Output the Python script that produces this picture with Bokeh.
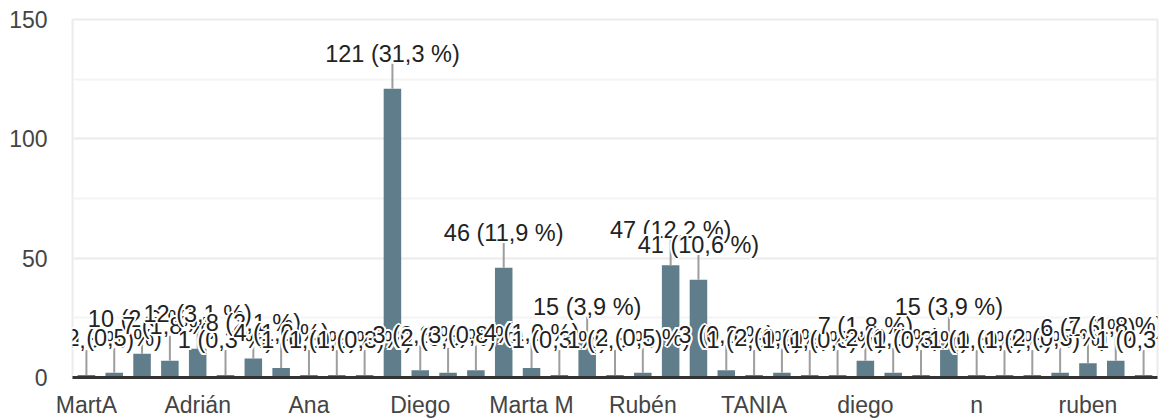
from bokeh.plotting import figure
from bokeh.models import Range1d, FixedTicker, ColumnDataSource, LabelSet
from bokeh.embed import file_html
from bokeh.resources import INLINE
from bokeh.core.properties import value

# categories (only every 4th name is shown on the axis)
names = [
    "MartA", "Adri", "Adrian", "Adriana",
    "Adrián", "Alba", "Alejandro", "Alicia",
    "Ana", "Andrea", "Carlos", "DIEGO",
    "Diego", "Diego M", "Lucía", "Marta",
    "Marta M", "Marta y Diego", "RUBEN", "Ruben",
    "Rubén", "Rubén M", "Sara", "Sergio",
    "TANIA", "Tania", "Todos", "Vicente",
    "diego", "diego m", "lucia", "marta",
    "n", "ninguno", "no", "no sé",
    "ruben", "rubén", "tania",
]
votes = [
    1, 2, 10, 7,
    12, 1, 8, 4,
    1, 1, 1, 121,
    3, 2, 3, 46,
    4, 1, 15, 1,
    2, 47, 41, 3,
    1, 2, 1, 1,
    7, 2, 1, 15,
    1, 1, 1, 2,
    6, 7, 1,
]
y_ticks = [0, 50, 100, 150]
y_minor = [25, 75, 125]

total = sum(votes)
idx = list(range(len(names)))
labels = [f"{v} ({v / total * 100:.1f} %)".replace(".", ",") for v in votes]
shown = idx[::4]

FONT = "Liberation Sans"
FRAME_H = 358
stem_units = 25 * (y_ticks[-1] - y_ticks[0]) / FRAME_H

src = ColumnDataSource(dict(x=idx, top=votes, stem=[v + stem_units for v in votes], label=labels))

p = figure(width=1160, height=420, output_backend="svg", toolbar_location=None,
           x_range=Range1d(-0.5, len(names) - 0.5), y_range=Range1d(y_ticks[0], y_ticks[-1]),
           min_border_left=72, min_border_right=3, min_border_top=19, min_border_bottom=42)
p.background_fill_color = "white"
p.border_fill_color = "white"
p.outline_line_color = "#ebebeb"
p.outline_line_width = 2

p.xgrid.grid_line_color = None
p.yaxis.ticker = FixedTicker(ticks=y_ticks, minor_ticks=y_minor)
p.ygrid.grid_line_color = "#ebebeb"
p.ygrid.grid_line_width = 2
p.ygrid.minor_grid_line_color = "#f4f4f4"
p.ygrid.minor_grid_line_width = 2

p.xaxis.ticker = FixedTicker(ticks=shown)
p.xaxis.major_label_overrides = {i: names[i] for i in shown}
p.xaxis.axis_line_color = "#333333"
p.xaxis.axis_line_width = 3
p.yaxis.axis_line_color = None
for ax in (p.xaxis, p.yaxis):
    ax.major_tick_line_color = None
    ax.minor_tick_line_color = None
    ax.major_tick_out = 0
    ax.major_tick_in = 0
    ax.minor_tick_out = 0
    ax.minor_tick_in = 0
    ax.major_label_text_font = FONT
    ax.major_label_text_font_size = "23px"
    ax.major_label_text_color = "#444444"
p.xaxis.major_label_standoff = 14
p.yaxis.major_label_standoff = 25

p.vbar(x="x", top="top", width=0.63, bottom=0, source=src, fill_color="#607d8b", line_color=None)
p.segment(x0="x", y0="top", x1="x", y1="stem", source=src, line_color="#9e9e9e", line_width=2)

# annotation labels: each drawn with a white halo, in order, so later ones cover earlier ones
halo = [(-2, 0), (2, 0), (0, -2), (0, 2), (-1.5, -1.5), (1.5, -1.5), (-1.5, 1.5), (1.5, 1.5)]
text_kw = dict(text_align="center", text_baseline="middle", text_font=value(FONT),
               text_font_size="23.5px")
for i in idx:
    hs = ColumnDataSource(dict(x=[i] * len(halo), y=[votes[i]] * len(halo), t=[labels[i]] * len(halo),
                               dx=[h[0] for h in halo], dy=[h[1] + 35 for h in halo]))
    p.add_layout(LabelSet(x="x", y="y", text="t", x_offset="dx", y_offset="dy", source=hs,
                          text_color="white", **text_kw))
    ts = ColumnDataSource(dict(x=[i], y=[votes[i]], t=[labels[i]]))
    p.add_layout(LabelSet(x="x", y="y", text="t", y_offset=35, source=ts,
                          text_color="#222222", **text_kw))

open("out.html", "w").write(file_html(p, INLINE))
